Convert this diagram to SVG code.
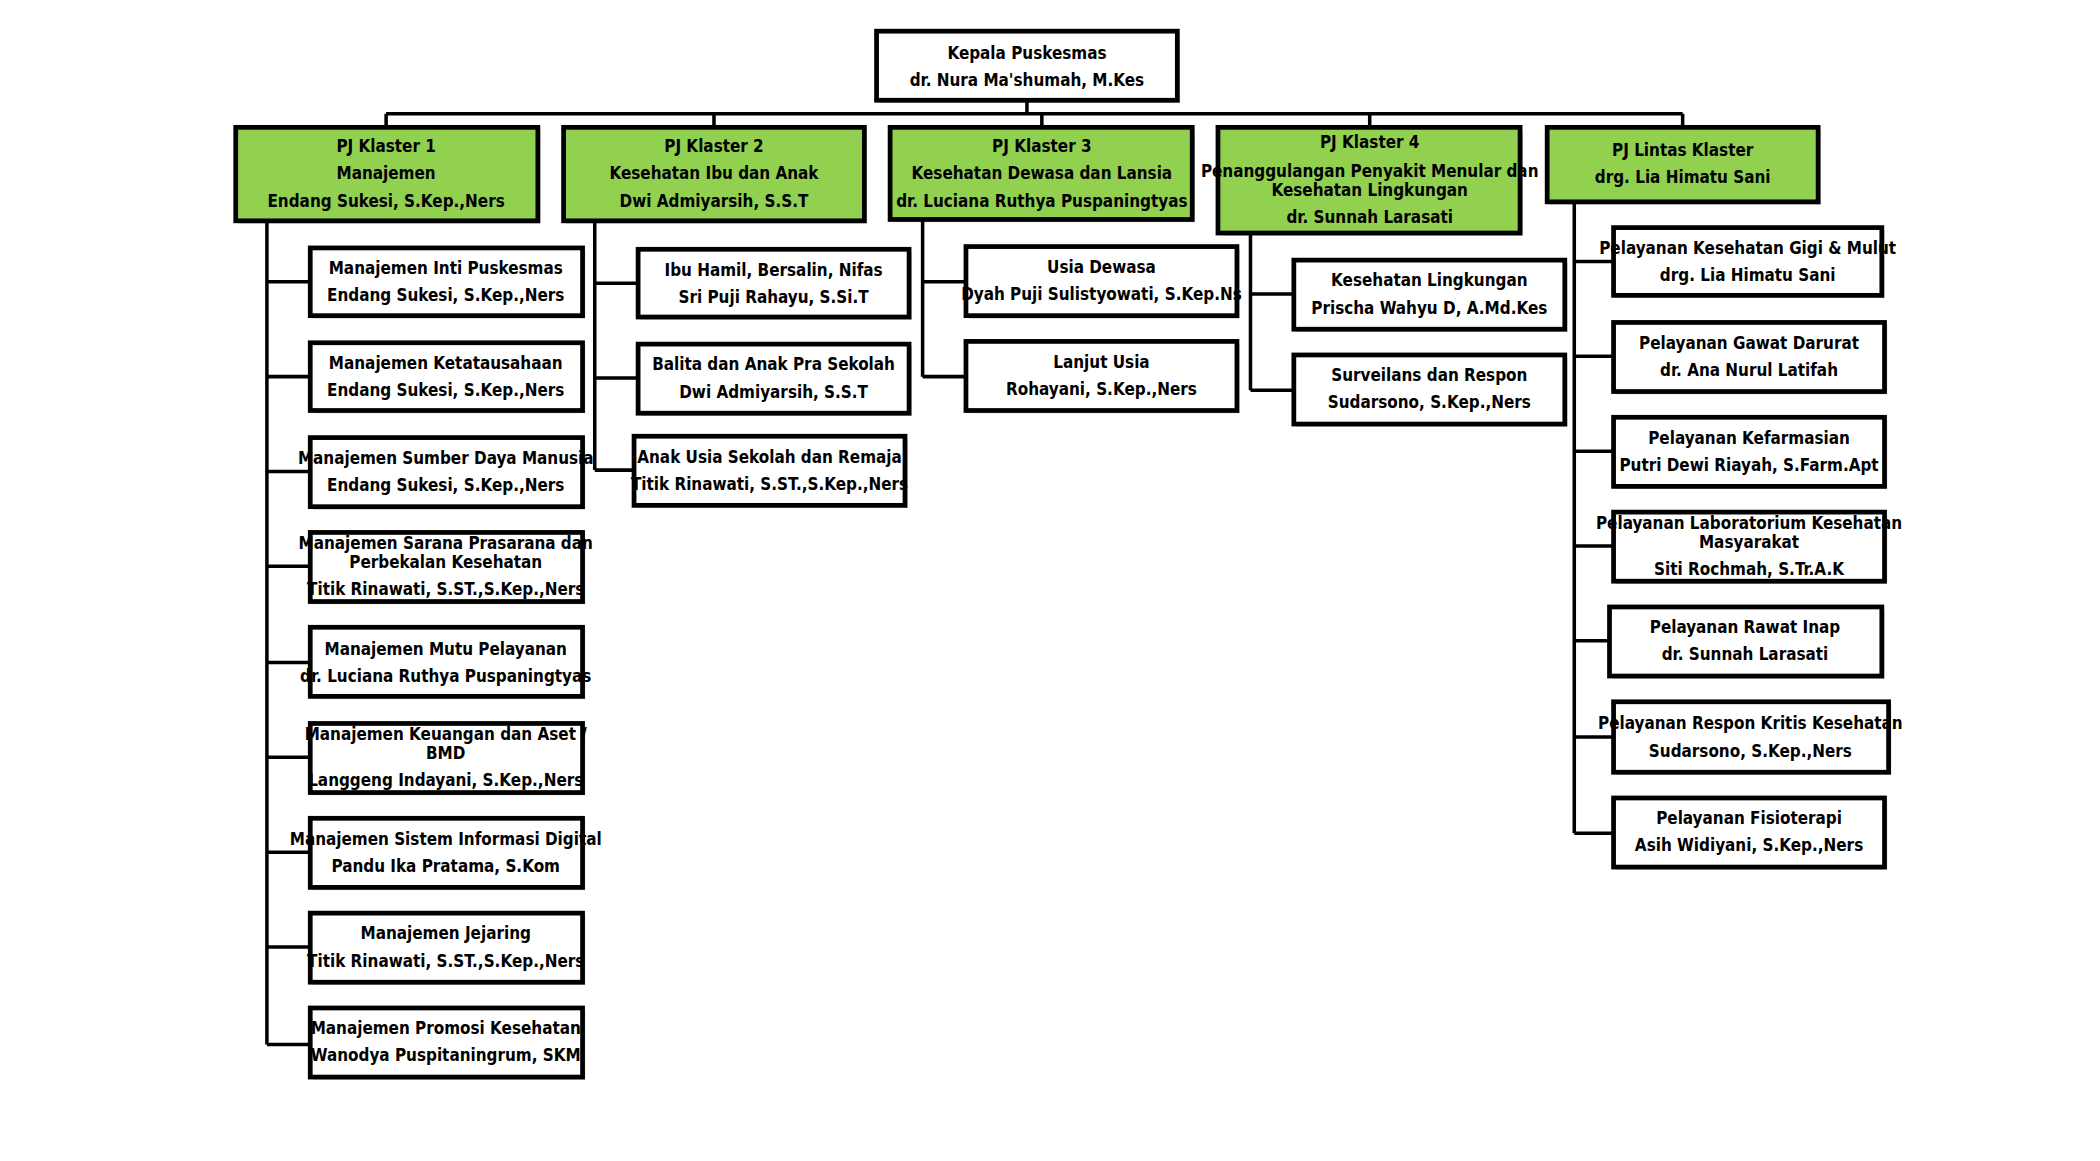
<svg xmlns="http://www.w3.org/2000/svg" width="2100" height="1161" viewBox="0 0 2100 1161">
<defs>
<style>
.b{fill:#fff;stroke:#000;stroke-width:3.5}
.g{fill:#92D050;stroke:#000;stroke-width:3.5}
.s{fill:#000;opacity:0.22}
.c{fill:none;stroke:#000;stroke-width:2.6}
text{font-family:"Liberation Sans Narrow","DejaVu Sans Condensed","Liberation Sans",sans-serif;font-size:12.5px;font-weight:bold;text-anchor:middle;dominant-baseline:central;fill:#000}
</style>
</defs>
<rect width="2100" height="1161" fill="#fff"/>
<g transform="scale(1.3548)">
<g id="connectors">
<path class="c" d="M758 74V84M285 84H1242M285 84V94M527 84V94M769 84V94M1011 84V94M1242 84V94"/>
<path class="c" d="M197 163V771M197 208H229M197 278H229M197 348H229M197 418H229M197 489H229M197 559H229M197 629H229M197 699H229M197 771H229"/>
<path class="c" d="M439 163V347M439 209H471M439 279H471M439 347H468"/>
<path class="c" d="M681 162V278M681 208H713M681 278H713"/>
<path class="c" d="M923 172V288M923 217H955M923 288H955"/>
<path class="c" d="M1162 149V615M1162 193H1191M1162 263H1191M1162 333H1191M1162 403H1191M1162 473H1188M1162 544H1191M1162 615H1191"/>
</g>
<g id="kepala"><rect class="s" x="649" y="25" width="222" height="51"/><rect class="b" x="647" y="23" width="222" height="51"/><text x="758" y="39">Kepala Puskesmas</text><text x="758" y="59">dr. Nura Ma'shumah, M.Kes</text></g>
<g id="k1"><rect class="s" x="176" y="96" width="223" height="69"/><rect class="g" x="174" y="94" width="223" height="69"/><text x="285" y="108">PJ Klaster 1</text><text x="285" y="128">Manajemen</text><text x="285" y="148">Endang Sukesi, S.Kep.,Ners</text></g>
<g id="k2"><rect class="s" x="418" y="96" width="222" height="69"/><rect class="g" x="416" y="94" width="222" height="69"/><text x="527" y="108">PJ Klaster 2</text><text x="527" y="128">Kesehatan Ibu dan Anak</text><text x="527" y="148">Dwi Admiyarsih, S.S.T</text></g>
<g id="k3"><rect class="s" x="659" y="96" width="223" height="68"/><rect class="g" x="657" y="94" width="223" height="68"/><text x="769" y="108">PJ Klaster 3</text><text x="769" y="128">Kesehatan Dewasa dan Lansia</text><text x="769" y="148">dr. Luciana Ruthya Puspaningtyas</text></g>
<g id="k4"><rect class="s" x="901" y="96" width="223" height="78"/><rect class="g" x="899" y="94" width="223" height="78"/><text x="1011" y="105">PJ Klaster 4</text><text x="1011" y="126">Penanggulangan Penyakit Menular dan</text><text x="1011" y="140">Kesehatan Lingkungan</text><text x="1011" y="160">dr. Sunnah Larasati</text></g>
<g id="lintas"><rect class="s" x="1144" y="96" width="200" height="55"/><rect class="g" x="1142" y="94" width="200" height="55"/><text x="1242" y="111">PJ Lintas Klaster</text><text x="1242" y="131">drg. Lia Himatu Sani</text></g>

<g id="m1"><rect class="s" x="231" y="185" width="201" height="50"/><rect class="b" x="229" y="183" width="201" height="50"/><text x="329" y="198">Manajemen Inti Puskesmas</text><text x="329" y="218">Endang Sukesi, S.Kep.,Ners</text></g>
<g id="m2"><rect class="s" x="231" y="255" width="201" height="50"/><rect class="b" x="229" y="253" width="201" height="50"/><text x="329" y="268">Manajemen Ketatausahaan</text><text x="329" y="288">Endang Sukesi, S.Kep.,Ners</text></g>
<g id="m3"><rect class="s" x="231" y="325" width="201" height="51"/><rect class="b" x="229" y="323" width="201" height="51"/><text x="329" y="338">Manajemen Sumber Daya Manusia</text><text x="329" y="358">Endang Sukesi, S.Kep.,Ners</text></g>
<g id="m4"><rect class="s" x="231" y="395" width="201" height="51"/><rect class="b" x="229" y="393" width="201" height="51"/><text x="329" y="401">Manajemen Sarana Prasarana dan</text><text x="329" y="415">Perbekalan Kesehatan</text><text x="329" y="435">Titik Rinawati, S.ST.,S.Kep.,Ners</text></g>
<g id="m5"><rect class="s" x="231" y="465" width="201" height="51"/><rect class="b" x="229" y="463" width="201" height="51"/><text x="329" y="479">Manajemen Mutu Pelayanan</text><text x="329" y="499">dr. Luciana Ruthya Puspaningtyas</text></g>
<g id="m6"><rect class="s" x="231" y="536" width="201" height="51"/><rect class="b" x="229" y="534" width="201" height="51"/><text x="329" y="542">Manajemen Keuangan dan Aset /</text><text x="329" y="556">BMD</text><text x="329" y="576">Langgeng Indayani, S.Kep.,Ners</text></g>
<g id="m7"><rect class="s" x="231" y="606" width="201" height="51"/><rect class="b" x="229" y="604" width="201" height="51"/><text x="329" y="619">Manajemen Sistem Informasi Digital</text><text x="329" y="639">Pandu Ika Pratama, S.Kom</text></g>
<g id="m8"><rect class="s" x="231" y="676" width="201" height="51"/><rect class="b" x="229" y="674" width="201" height="51"/><text x="329" y="689">Manajemen Jejaring</text><text x="329" y="709">Titik Rinawati, S.ST.,S.Kep.,Ners</text></g>
<g id="m9"><rect class="s" x="231" y="746" width="201" height="51"/><rect class="b" x="229" y="744" width="201" height="51"/><text x="329" y="759">Manajemen Promosi Kesehatan</text><text x="329" y="779">Wanodya Puspitaningrum, SKM</text></g>

<g id="a1"><rect class="s" x="473" y="186" width="200" height="50"/><rect class="b" x="471" y="184" width="200" height="50"/><text x="571" y="199">Ibu Hamil, Bersalin, Nifas</text><text x="571" y="219">Sri Puji Rahayu, S.Si.T</text></g>
<g id="a2"><rect class="s" x="473" y="256" width="200" height="51"/><rect class="b" x="471" y="254" width="200" height="51"/><text x="571" y="269">Balita dan Anak Pra Sekolah</text><text x="571" y="289">Dwi Admiyarsih, S.S.T</text></g>
<g id="a3"><rect class="s" x="470" y="324" width="200" height="51"/><rect class="b" x="468" y="322" width="200" height="51"/><text x="568" y="337">Anak Usia Sekolah dan Remaja</text><text x="568" y="357">Titik Rinawati, S.ST.,S.Kep.,Ners</text></g>

<g id="d1"><rect class="s" x="715" y="184" width="200" height="51"/><rect class="b" x="713" y="182" width="200" height="51"/><text x="813" y="197">Usia Dewasa</text><text x="813" y="217">Dyah Puji Sulistyowati, S.Kep.Ns</text></g>
<g id="d2"><rect class="s" x="715" y="254" width="200" height="51"/><rect class="b" x="713" y="252" width="200" height="51"/><text x="813" y="267">Lanjut Usia</text><text x="813" y="287">Rohayani, S.Kep.,Ners</text></g>

<g id="p1"><rect class="s" x="957" y="194" width="200" height="51"/><rect class="b" x="955" y="192" width="200" height="51"/><text x="1055" y="207">Kesehatan Lingkungan</text><text x="1055" y="227">Prischa Wahyu D, A.Md.Kes</text></g>
<g id="p2"><rect class="s" x="957" y="264" width="200" height="51"/><rect class="b" x="955" y="262" width="200" height="51"/><text x="1055" y="277">Surveilans dan Respon</text><text x="1055" y="297">Sudarsono, S.Kep.,Ners</text></g>

<g id="l1"><rect class="s" x="1193" y="170" width="198" height="50"/><rect class="b" x="1191" y="168" width="198" height="50"/><text x="1290" y="183">Pelayanan Kesehatan Gigi &amp; Mulut</text><text x="1290" y="203">drg. Lia Himatu Sani</text></g>
<g id="l2"><rect class="s" x="1193" y="240" width="200" height="51"/><rect class="b" x="1191" y="238" width="200" height="51"/><text x="1291" y="253">Pelayanan Gawat Darurat</text><text x="1291" y="273">dr. Ana Nurul Latifah</text></g>
<g id="l3"><rect class="s" x="1193" y="310" width="200" height="51"/><rect class="b" x="1191" y="308" width="200" height="51"/><text x="1291" y="323">Pelayanan Kefarmasian</text><text x="1291" y="343">Putri Dewi Riayah, S.Farm.Apt</text></g>
<g id="l4"><rect class="s" x="1193" y="380" width="200" height="51"/><rect class="b" x="1191" y="378" width="200" height="51"/><text x="1291" y="386">Pelayanan Laboratorium Kesehatan</text><text x="1291" y="400">Masyarakat</text><text x="1291" y="420">Siti Rochmah, S.Tr.A.K</text></g>
<g id="l5"><rect class="s" x="1190" y="450" width="201" height="51"/><rect class="b" x="1188" y="448" width="201" height="51"/><text x="1288" y="463">Pelayanan Rawat Inap</text><text x="1288" y="483">dr. Sunnah Larasati</text></g>
<g id="l6"><rect class="s" x="1193" y="520" width="203" height="52"/><rect class="b" x="1191" y="518" width="203" height="52"/><text x="1292" y="534">Pelayanan Respon Kritis Kesehatan</text><text x="1292" y="554">Sudarsono, S.Kep.,Ners</text></g>
<g id="l7"><rect class="s" x="1193" y="591" width="200" height="51"/><rect class="b" x="1191" y="589" width="200" height="51"/><text x="1291" y="604">Pelayanan Fisioterapi</text><text x="1291" y="624">Asih Widiyani, S.Kep.,Ners</text></g>
</g>
</svg>
